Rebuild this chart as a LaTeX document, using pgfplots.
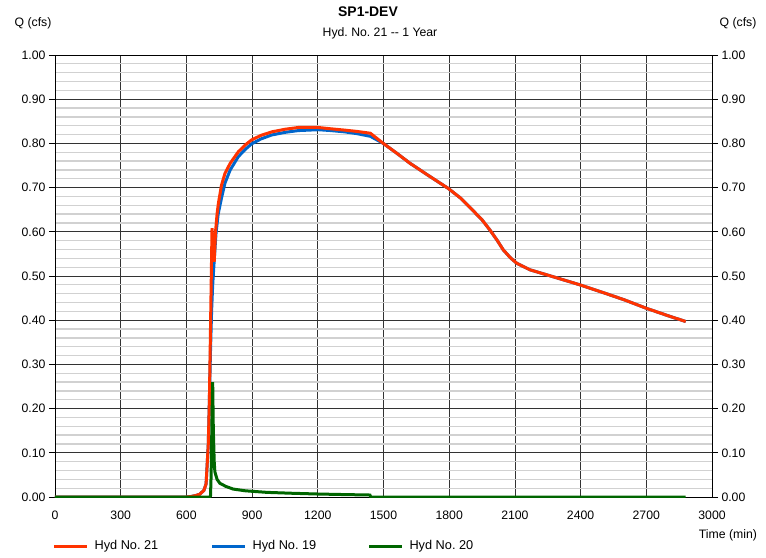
\documentclass[border=0pt]{standalone}
\usepackage{fontspec}
\setmainfont{Liberation Sans}
\usepackage{pgfplots}
\pgfplotsset{compat=1.18}
\definecolor{hred}{RGB}{255,51,0}
\definecolor{hblue}{RGB}{0,102,204}
\definecolor{hgreen}{RGB}{0,102,0}
\frenchspacing
\begin{document}
\begin{tikzpicture}
\begin{axis}[
  scale only axis, width=657bp, height=442bp,
  xmin=0, xmax=3000, ymin=0, ymax=1,
  xtick={0,300,...,3000},
  ytick={0,0.1,...,1.0},
  minor y tick num=4,
  ymajorgrids, yminorgrids, xmajorgrids,
  major grid style={black!80, line width=0.7bp},
  minor grid style={black!18, line width=1.3bp},
  axis line style={black, line width=0.8bp},
  tick align=outside,
  major tick length=6bp, minor tick length=0pt,
  xtick style={draw=none},
  ytick style={black, line width=0.7bp},
  ytick pos=left,
  tick label style={font=\fontsize{12.3}{14}\selectfont},
  /pgf/number format/assume math mode=true,
  /pgf/number format/1000 sep={},
  yticklabel style={/pgf/number format/.cd, fixed, fixed zerofill, precision=2},
  xticklabel style={yshift=-4bp},
  legend columns=3,
  legend style={draw=none, fill=none, at={(axis description cs:-0.004,-0.111)}, anchor=west,
    font=\fontsize{12.8}{14}\selectfont, inner sep=0pt,
    /tikz/every odd column/.append style={column sep=4bp}},
  legend image code/.code={\draw[#1] (0bp,0bp) -- (33bp,0bp);},
]
\addlegendimage{hred, line width=3bp}
\addlegendentry{\makebox[114bp][l]{Hyd No. 21}}
\addlegendimage{hblue, line width=3bp}
\addlegendentry{\makebox[113bp][l]{Hyd No. 19}}
\addlegendimage{hgreen, line width=3bp}
\addlegendentry{\makebox[70bp][l]{Hyd No. 20}}

% Hyd No. 19
\addplot[hblue, line width=3bp, forget plot] coordinates {
(0,0) (600,0) (620,0.001) (640,0.003) (660,0.006) (680,0.015) (690,0.03)
(700,0.12) (705,0.22) (710,0.33) (715,0.42) (720,0.48) (727,0.535) (735,0.595)
(745,0.64) (761,0.678) (776,0.71) (800,0.74) (837,0.77) (870,0.787)
(898,0.799) (940,0.81) (989,0.819) (1050,0.825) (1111,0.829) (1202,0.831)
(1260,0.829) (1324,0.826) (1380,0.822) (1440,0.816) (1499,0.80) (1560,0.778)
(1621,0.755) (1700,0.729) (1796,0.698) (1850,0.677) (1895,0.655) (1950,0.627)
(1986,0.604) (2020,0.58) (2047,0.559) (2080,0.541) (2108,0.529) (2169,0.514)
(2250,0.502) (2397,0.48) (2500,0.463) (2600,0.446) (2700,0.427) (2800,0.41) (2880,0.397)
};
% Hyd No. 21
\addplot[hred, line width=3bp, forget plot] coordinates {
(0,0) (600,0) (620,0.001) (640,0.003) (660,0.006) (680,0.015) (690,0.03)
(700,0.12) (705,0.22) (710,0.38) (717,0.608) (722,0.56) (727,0.532) (733,0.60)
(740,0.64) (746,0.664) (760,0.705) (776,0.732) (800,0.755) (837,0.781)
(870,0.797) (898,0.808) (940,0.818) (989,0.826) (1050,0.832) (1111,0.836)
(1202,0.836) (1260,0.833) (1324,0.830) (1380,0.827) (1440,0.823) (1499,0.80)
(1560,0.778) (1621,0.755) (1700,0.729) (1796,0.698) (1850,0.677) (1895,0.655)
(1950,0.627) (1986,0.604) (2020,0.58) (2047,0.559) (2080,0.541) (2108,0.529)
(2169,0.514) (2250,0.502) (2397,0.48) (2500,0.463) (2600,0.446) (2700,0.427)
(2800,0.41) (2880,0.397)
};
% Hyd No. 20
\addplot[hgreen, line width=3bp, forget plot] coordinates {
(0,0) (705,0) (710,0.002) (713,0.05) (717,0.18) (720,0.26) (723,0.15) (727,0.08)
(730,0.057) (740,0.04) (753,0.031) (780,0.024) (813,0.018) (870,0.014)
(967,0.0105) (1080,0.0085) (1195,0.0068) (1320,0.0055) (1438,0.0045) (1442,0) (2880,0)
};
\end{axis}
\begin{axis}[
  scale only axis, width=657bp, height=442bp,
  xmin=0, xmax=3000, ymin=0, ymax=1,
  axis x line=none, axis y line*=right,
  ytick={0,0.1,...,1.0},
  tick align=outside, major tick length=6bp,
  ytick style={black, line width=0.7bp},
  axis line style={black, line width=0.8bp},
  tick label style={font=\fontsize{12.3}{14}\selectfont},
  /pgf/number format/assume math mode=true,
  yticklabel style={/pgf/number format/.cd, fixed, fixed zerofill, precision=2},
]
\addplot[draw=none] coordinates {(0,0)};
\end{axis}
\node[font=\bfseries\fontsize{14}{16}\selectfont] at (313bp,485bp) {SP1-DEV};
\node[font=\fontsize{12.3}{14}\selectfont] at (325bp,464bp) {Hyd. No. 21 {-}{-} 1 Year};
\node[font=\fontsize{12.3}{14}\selectfont] at (-22bp,474bp) {Q (cfs)};
\node[font=\fontsize{12.3}{14}\selectfont] at (683bp,474bp) {Q (cfs)};
\node[font=\fontsize{12.3}{14}\selectfont] at (673bp,-38bp) {Time (min)};
\pgfresetboundingbox
\path[use as bounding box] (-55bp,-61bp) rectangle (711bp,497bp);
\end{tikzpicture}
\end{document}
